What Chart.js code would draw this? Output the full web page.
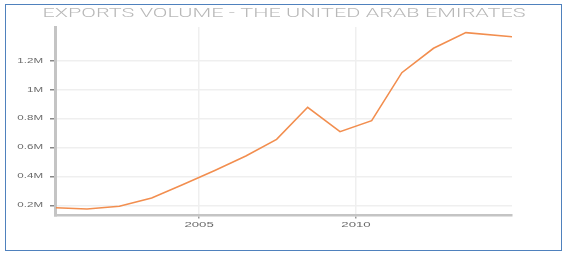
<!DOCTYPE html>
<html>
<head>
<meta charset="utf-8">
<script src="https://cdn.jsdelivr.net/npm/chart.js@4.4.0/dist/chart.umd.min.js"></script>
<style>
  html, body { margin: 0; padding: 0; background: #fff; }
  #wrap { position: relative; width: 569px; height: 260px; }
  #frame { position: absolute; left: 5px; top: 4px; width: 555px; height: 245px;
           border: 1.5px solid #4f81bd; pointer-events: none; }
  canvas { position: absolute; left: 0; top: 0; }
</style>
</head>
<body>
<div id="wrap">
  <canvas id="exportsChart" width="569" height="260"></canvas>
  <div id="frame"></div>
</div>
<script>
// exports volume, UAE
const chartTitle = 'EXPORTS VOLUME - THE UNITED ARAB EMIRATES';
const years = [2000.44, 2001.43, 2002.46, 2003.49, 2004.49, 2005.5, 2006.49, 2007.47,
               2008.46, 2009.49, 2010.5, 2011.46, 2012.47, 2013.5, 2014.97];
const volumes = [183000, 174000, 193000, 250000, 344000, 441000, 541000, 656000,
                 878000, 709000, 785000, 1117000, 1286000, 1394000, 1366000];
const xTicks = [2005, 2010];
const yTicks = [200000, 400000, 600000, 800000, 1000000, 1200000];
const yTickLabels = ['0.2M', '0.4M', '0.6M', '0.8M', '1M', '1.2M'];

// the picture is stretched sideways, so the texts are drawn wide
const stretch = 1.65;

function wideText(ctx, text, x, y, sx, align) {
    ctx.save();
    ctx.textAlign = align;
    ctx.textBaseline = 'middle';
    ctx.translate(x, y);
    ctx.scale(sx, 1);
    ctx.fillText(text, 0, 0);
    ctx.restore();
}

const textPlugin = {
    id: 'wideTexts',
    afterDraw(chart) {
        let ctx = chart.ctx;
        let xs = chart.scales.x, ys = chart.scales.y;
        ctx.save();
        ctx.font = '300 13px Roboto';
        ctx.fillStyle = '#b8b8b8';
        let w = ctx.measureText(chartTitle).width;
        wideText(ctx, chartTitle, 284, 14, 483 / w, 'center');

        ctx.fillStyle = '#6a6a6a';
        ctx.font = '7px "Liberation Sans"';
        yTicks.forEach((v, i) => {
            wideText(ctx, yTickLabels[i], ys.left + ys.width - 12, ys.getPixelForValue(v), stretch, 'right');
        });
        ctx.font = '8px "Liberation Sans"';
        xTicks.forEach(v => {
            wideText(ctx, String(v), xs.getPixelForValue(v), xs.top + 9, stretch, 'center');
        });
        ctx.restore();
    }
};

let ctx = document.getElementById('exportsChart').getContext('2d');
let exportsChart = new Chart(ctx, {
    type: 'line',
    data: {
        datasets: [{
            data: years.map((y, i) => ({ x: y, y: volumes[i] })),
            borderColor: '#f28e4f',
            borderWidth: 1.6,
            pointRadius: 0,
            tension: 0,
            fill: false
        }]
    },
    options: {
        responsive: false,
        animation: false,
        layout: { padding: { left: 0, right: 57, top: 27, bottom: 0 } },
        plugins: {
            legend: { display: false },
            title: { display: false },
            tooltip: { enabled: false }
        },
        scales: {
            x: {
                type: 'linear',
                min: 2000.41,
                max: 2014.97,
                afterBuildTicks: scale => { scale.ticks = xTicks.map(v => ({ value: v })); },
                afterFit: scale => { scale.height = 44.5; },
                grid: { color: '#efefef', lineWidth: 1.5, tickColor: '#999', tickLength: 3 },
                border: { color: '#c4c4c4', width: 2.5 },
                ticks: { display: false }
            },
            y: {
                min: 129500,
                max: 1433000,
                afterBuildTicks: scale => { scale.ticks = yTicks.map(v => ({ value: v })); },
                afterFit: scale => { scale.width = 55; },
                grid: { color: '#efefef', lineWidth: 1.5, tickColor: '#888', tickLength: 5 },
                border: { color: '#c4c4c4', width: 3 },
                ticks: { display: false }
            }
        }
    },
    plugins: [textPlugin]
});
</script>
</body>
</html>
